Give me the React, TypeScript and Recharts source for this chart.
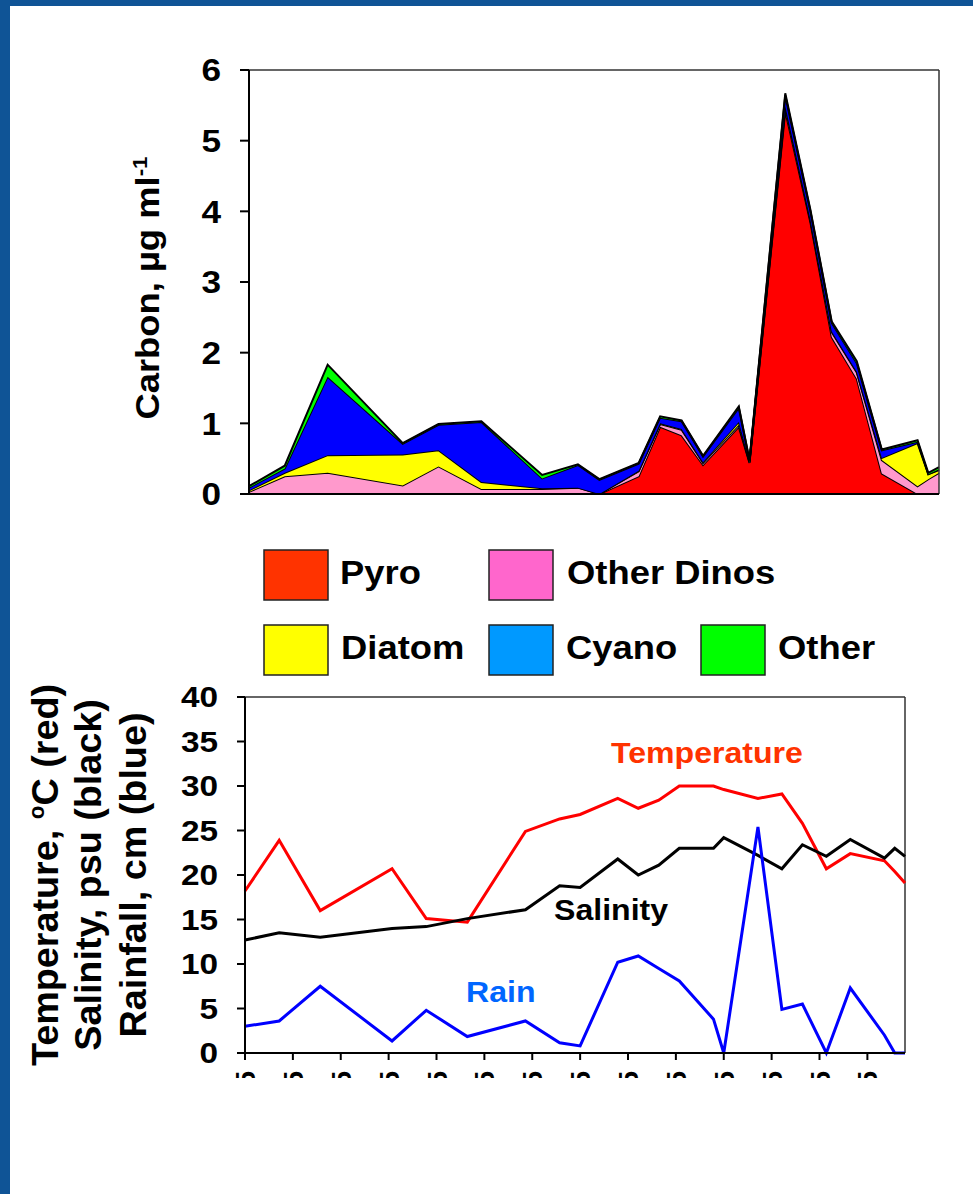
import React from 'react';
import {
  AreaChart,
  Area,
  LineChart,
  Line,
  XAxis,
  YAxis,
  ReferenceLine,
} from 'recharts';

// Sampling dates, as days from the first sample
const sampleDay = [0, 10, 22, 43, 53, 65, 82, 92, 98, 109, 115, 121, 127, 137, 140, 150, 157, 163, 170, 177, 187, 190, 193];

// Phytoplankton carbon by group, µg ml-1
const pyro = [0, 0, 0, 0, 0, 0, 0, 0, 0, 0.25, 0.95, 0.83, 0.41, 0.95, 0.44, 5.42, 3.85, 2.22, 1.63, 0.29, 0, 0, 0];
const otherDinos = [0.03, 0.25, 0.3, 0.12, 0.39, 0.07, 0.07, 0.09, 0, 0.07, 0.04, 0.08, 0.03, 0.03, 0.01, 0.05, 0.03, 0.07, 0.09, 0.19, 0.11, 0.21, 0.3];
const diatom = [0.02, 0.05, 0.25, 0.44, 0.23, 0.1, 0.01, 0, 0, 0.01, 0.01, 0.01, 0.01, 0.04, 0.01, 0.02, 0.01, 0.01, 0.01, 0.03, 0.61, 0.07, 0.04];
const cyano = [0.04, 0.06, 1.11, 0.15, 0.36, 0.85, 0.14, 0.32, 0.2, 0.1, 0.08, 0.11, 0.08, 0.2, 0.01, 0.15, 0.12, 0.12, 0.12, 0.11, 0.02, 0, 0.01];
const other = [0.02, 0.04, 0.17, 0.01, 0.01, 0.01, 0.05, 0.01, 0.01, 0.01, 0.02, 0.01, 0.01, 0.02, 0.01, 0.03, 0.02, 0.02, 0.03, 0.01, 0.02, 0.02, 0.03];

// Physical conditions
const temperature = [18.2, 23.9, 16.0, 20.7, 15.1, 14.7, 24.9, 26.3, 26.8, 28.6, 27.5, 28.4, 30.0, 30.0, 29.6, 28.6, 29.1, 25.8, 20.7, 22.4, 21.6, 20.4, 19.1];
const salinity = [12.7, 13.5, 13.0, 14.0, 14.2, 15.1, 16.1, 18.8, 18.6, 21.8, 20.0, 21.1, 23.0, 23.0, 24.2, 22.2, 20.7, 23.4, 22.1, 24.0, 21.9, 23.0, 22.1];
const rainfall = [3.0, 3.6, 7.5, 1.35, 4.8, 1.85, 3.6, 1.15, 0.8, 10.2, 10.9, 9.5, 8.1, 3.8, 0, 25.4, 4.9, 5.5, 0, 7.3, 2.0, 0, 0];

// Axis ticks
const tickDays = [0, 14, 28, 42, 56, 70, 84, 98, 112, 126, 140, 154, 168, 182];
const tickDates = ['4/4/05', '4/18/05', '5/2/05', '5/16/05', '5/30/05', '6/13/05', '6/27/05', '7/11/05', '7/25/05', '8/8/05', '8/22/05', '9/5/05', '9/19/05', '10/3/05'];
const carbonTicks = [0, 1, 2, 3, 4, 5, 6];
const physTicks = [0, 5, 10, 15, 20, 25, 30, 35, 40];

const FONT = '"Liberation Sans", Arial, Helvetica, sans-serif';
const LAST_DAY = sampleDay[sampleDay.length - 1];

const carbonRows = sampleDay.map((day, i) => ({
  day,
  pyro: pyro[i],
  otherDinos: otherDinos[i],
  diatom: diatom[i],
  cyano: cyano[i],
  other: other[i],
}));

const physRows = sampleDay.map((day, i) => ({
  day,
  temperature: temperature[i],
  salinity: salinity[i],
  rainfall: rainfall[i],
}));

// Stacked groups, bottom to top
const carbonSeries = [
  { key: 'pyro', name: 'Pyro', fill: '#FF0000', swatch: '#FF3300' },
  { key: 'otherDinos', name: 'Other Dinos', fill: '#FF99CC', swatch: '#FF66CC' },
  { key: 'diatom', name: 'Diatom', fill: '#FFFF00', swatch: '#FFFF00' },
  { key: 'cyano', name: 'Cyano', fill: '#0000FF', swatch: '#0099FF' },
  { key: 'other', name: 'Other', fill: '#00FF00', swatch: '#00FF00' },
];

// Legend slots (swatch left, swatch top, text left, text baseline)
const legendSlots = [
  [264, 550, 340, 584],
  [489, 550, 567, 584],
  [264, 625, 341, 659],
  [489, 625, 566, 659],
  [701, 625, 778, 659],
];

// Bold text, widened along its own direction
type STextProps = {
  x: number;
  y: number;
  sx?: number;
  rotate?: number;
  size: number;
  fill?: string;
  anchor?: 'start' | 'middle' | 'end';
  dy?: string | number;
  children?: React.ReactNode;
};

const SText = ({ x, y, sx = 1, rotate = 0, size, fill = '#000', anchor = 'start', dy, children }: STextProps) => (
  <text
    x={0}
    y={0}
    dy={dy}
    transform={`translate(${x}, ${y}) rotate(${rotate}) scale(${sx}, 1)`}
    textAnchor={anchor}
    fontSize={size}
    fontWeight={700}
    fontFamily={FONT}
    fill={fill}
  >
    {children}
  </text>
);

const makeValueTick = (size: number, sx: number) => (props: any) => {
  const { x, y, payload } = props;
  return (
    <SText x={x} y={y} sx={sx} size={size} anchor="end" dy="0.355em">
      {payload.value}
    </SText>
  );
};

const carbonValueTick = makeValueTick(32, 1.1);
const physValueTick = makeValueTick(29, 1.15);

const DateTick = (props: any) => {
  const { x, y, payload } = props;
  const idx = tickDays.indexOf(payload.value);
  const label = idx >= 0 ? tickDates[idx] : '';
  return (
    <SText x={x} y={y} rotate={-90} size={28} anchor="end" dy="0.36em">
      {label}
    </SText>
  );
};

function CarbonChart() {
  return (
    <AreaChart
      width={973}
      height={530}
      data={carbonRows}
      margin={{ top: 70, right: 34, bottom: 0, left: 0 }}
    >
      <XAxis
        dataKey="day"
        type="number"
        domain={[0, LAST_DAY]}
        ticks={tickDays}
        tick={false}
        height={36}
        tickSize={9}
        axisLine={{ stroke: '#000', strokeWidth: 2 }}
        tickLine={{ stroke: '#000', strokeWidth: 2 }}
      />
      <YAxis
        type="number"
        domain={[0, 6]}
        ticks={carbonTicks}
        width={249}
        tickSize={9}
        tickMargin={19}
        tick={carbonValueTick}
        axisLine={{ stroke: '#000', strokeWidth: 2 }}
        tickLine={{ stroke: '#000', strokeWidth: 2 }}
      />
      <ReferenceLine y={6} stroke="#333" strokeWidth={1.5} />
      <ReferenceLine x={LAST_DAY} stroke="#333" strokeWidth={1.5} />
      {carbonSeries.map((s) => (
        <Area
          key={s.key}
          dataKey={s.key}
          name={s.name}
          stackId="carbon"
          type="linear"
          fill={s.fill}
          fillOpacity={1}
          stroke="#000"
          strokeWidth={2}
          dot={false}
          activeDot={false}
          isAnimationActive={false}
        />
      ))}
    </AreaChart>
  );
}

function PhysicalChart() {
  return (
    <LineChart
      width={973}
      height={418}
      data={physRows}
      margin={{ top: 37, right: 68, bottom: 0, left: 0 }}
    >
      <XAxis
        dataKey="day"
        type="number"
        domain={[0, LAST_DAY]}
        ticks={tickDays}
        height={25}
        tickSize={7}
        tickMargin={11}
        tick={(p: any) => <DateTick {...p} />}
        axisLine={{ stroke: '#000', strokeWidth: 2 }}
        tickLine={{ stroke: '#000', strokeWidth: 2 }}
      />
      <YAxis
        type="number"
        domain={[0, 40]}
        ticks={physTicks}
        width={245}
        tickSize={8}
        tickMargin={19}
        tick={physValueTick}
        axisLine={{ stroke: '#000', strokeWidth: 2 }}
        tickLine={{ stroke: '#000', strokeWidth: 2 }}
      />
      <ReferenceLine y={40} stroke="#333" strokeWidth={1.5} />
      <ReferenceLine x={LAST_DAY} stroke="#333" strokeWidth={1.5} />
      <Line dataKey="temperature" type="linear" stroke="#FF0000" strokeWidth={3} dot={false} activeDot={false} isAnimationActive={false} />
      <Line dataKey="salinity" type="linear" stroke="#000000" strokeWidth={3} dot={false} activeDot={false} isAnimationActive={false} />
      <Line dataKey="rainfall" type="linear" stroke="#0000FF" strokeWidth={3} dot={false} activeDot={false} isAnimationActive={false} />
    </LineChart>
  );
}

function Overlay() {
  return (
    <svg
      width={973}
      height={1194}
      style={{ position: 'absolute', left: 0, top: 0, pointerEvents: 'none' }}
    >
      {/* Carbon axis title */}
      <SText x={159} y={288} rotate={-90} sx={1.07} size={34} anchor="middle">
        Carbon, µg ml
        <tspan dy={-12} fontSize={21}>-1</tspan>
      </SText>

      {/* Legend */}
      {carbonSeries.map((s, i) => {
        const [sx, sy, tx, ty] = legendSlots[i];
        return (
          <g key={s.key}>
            <rect x={sx} y={sy} width={64} height={50} fill={s.swatch} stroke="#222" strokeWidth={1.5} />
            <SText x={tx} y={ty} sx={1.12} size={32.5}>
              {s.name}
            </SText>
          </g>
        );
      })}

      {/* Physical axis title, three lines */}
      <SText x={58} y={875} rotate={-90} sx={1.02} size={37} anchor="middle">
        Temperature,{' '}
        <tspan dy={-14} fontSize={22}>o</tspan>
        <tspan dy={14}>C (red)</tspan>
      </SText>
      <SText x={101} y={875} rotate={-90} sx={1.02} size={37} anchor="middle">
        Salinity, psu (black)
      </SText>
      <SText x={146} y={875} rotate={-90} sx={1.02} size={37} anchor="middle">
        Rainfall, cm (blue)
      </SText>

      {/* Series annotations */}
      <SText x={611} y={763} sx={1.07} size={30} fill="#FF3300">Temperature</SText>
      <SText x={554} y={920} sx={1.07} size={30}>Salinity</SText>
      <SText x={466} y={1002} sx={1.07} size={30} fill="#0066FF">Rain</SText>
    </svg>
  );
}

export default function App() {
  return (
    <div
      style={{
        position: 'absolute',
        left: 0,
        top: 0,
        width: 973,
        height: 1194,
        background: '#FFFFFF',
        overflow: 'hidden',
      }}
    >
      <div style={{ position: 'absolute', left: 0, top: 0, width: 973, height: 530 }}>
        <CarbonChart />
      </div>
      <div style={{ position: 'absolute', left: 0, top: 660, width: 973, height: 418, overflow: 'hidden' }}>
        <PhysicalChart />
      </div>
      <Overlay />
      {/* Slide frame */}
      <div style={{ position: 'absolute', left: 0, top: 0, width: 973, height: 6, background: '#0F5496' }} />
      <div style={{ position: 'absolute', left: 0, top: 0, width: 10, height: 1194, background: '#0F5496' }} />
    </div>
  );
}
